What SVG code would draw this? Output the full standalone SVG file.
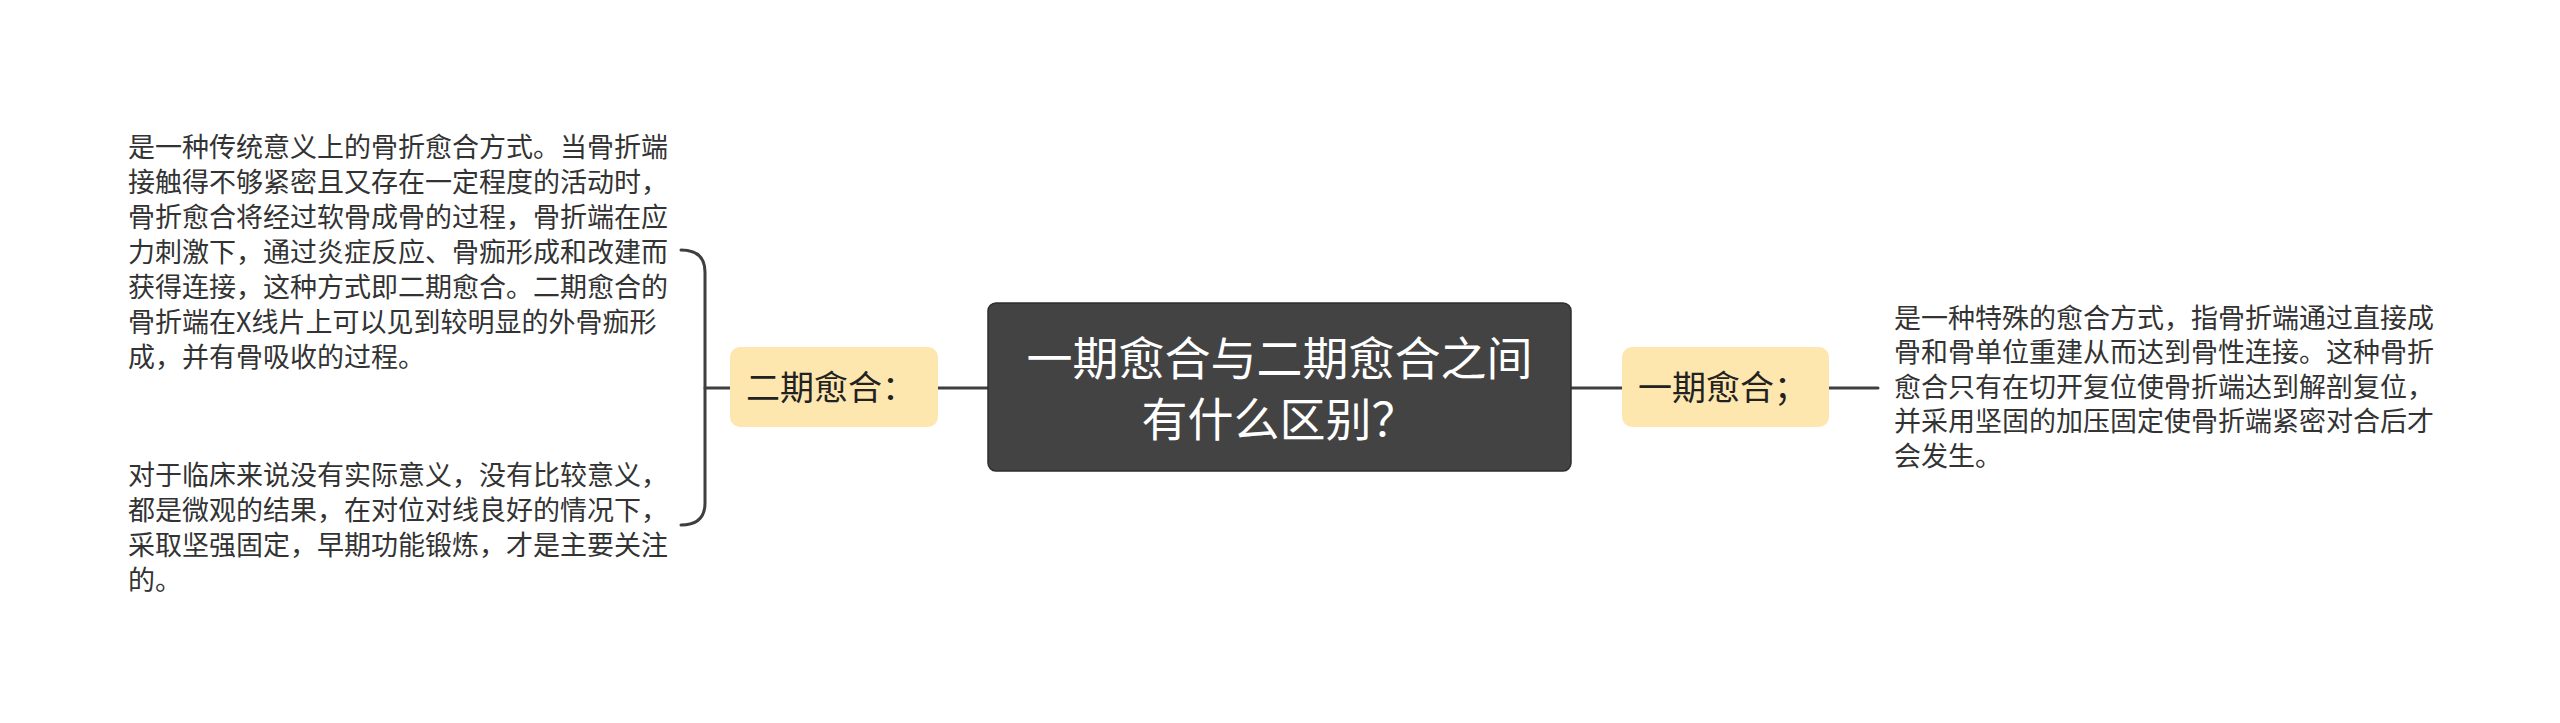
<svg xmlns="http://www.w3.org/2000/svg" width="2560" height="723" viewBox="0 0 2560 723">
<style>
  .conn { fill: none; stroke: #3f3f3f; stroke-width: 3; stroke-linecap: round; }
  .root-box { fill: #434343; stroke: #2e2e2e; stroke-width: 1.5; }
  .root-text { font-family: "Noto Sans CJK SC", "Noto Sans", sans-serif; font-size: 46px; fill: #ffffff; text-anchor: middle; }
  .branch-box { fill: #fee6af; }
  .branch-text { font-family: "Noto Sans CJK SC", "Noto Sans", sans-serif; font-size: 34px; fill: #222222; }
  .leaf-text { font-family: "Noto Sans CJK SC", "Noto Sans", sans-serif; font-size: 27px; fill: #333333; }
</style>
<rect x="0" y="0" width="2560" height="723" fill="#ffffff"/>
<g id="connectors">
  <line class="conn" x1="938" y1="388" x2="988" y2="388"/>
  <line class="conn" x1="1571" y1="388" x2="1622" y2="388"/>
  <line class="conn" x1="1829" y1="388" x2="1878" y2="388"/>
  <line class="conn" x1="705" y1="388" x2="730" y2="388"/>
  <path class="conn" d="M 681 250 Q 705 250 705 272 L 705 503 Q 705 525 681 525"/>
</g>
<g id="root">
  <rect class="root-box" x="988" y="303" width="583" height="168" rx="8" ry="8"/>
  <text class="root-text" x="1279.5" y="375">一期愈合与二期愈合之间</text>
  <text class="root-text" x="1279.5" y="436">有什么区别？</text>
</g>
<g id="branch-second">
  <rect class="branch-box" x="730" y="347" width="208" height="80" rx="10" ry="10"/>
  <text class="branch-text" x="746" y="400">二期愈合：</text>
</g>
<g id="branch-first">
  <rect class="branch-box" x="1622" y="347" width="207" height="80" rx="10" ry="10"/>
  <text class="branch-text" x="1638" y="400">一期愈合；</text>
</g>
<g id="leaf-second-1">
  <text class="leaf-text" x="128" y="157">是一种传统意义上的骨折愈合方式。当骨折端</text>
  <text class="leaf-text" x="128" y="192">接触得不够紧密且又存在一定程度的活动时，</text>
  <text class="leaf-text" x="128" y="227">骨折愈合将经过软骨成骨的过程，骨折端在应</text>
  <text class="leaf-text" x="128" y="262">力刺激下，通过炎症反应、骨痂形成和改建而</text>
  <text class="leaf-text" x="128" y="297">获得连接，这种方式即二期愈合。二期愈合的</text>
  <text class="leaf-text" x="128" y="332">骨折端在X线片上可以见到较明显的外骨痂形</text>
  <text class="leaf-text" x="128" y="367">成，并有骨吸收的过程。</text>
</g>
<g id="leaf-second-2">
  <text class="leaf-text" x="128" y="485">对于临床来说没有实际意义，没有比较意义，</text>
  <text class="leaf-text" x="128" y="520">都是微观的结果，在对位对线良好的情况下，</text>
  <text class="leaf-text" x="128" y="555">采取坚强固定，早期功能锻炼，才是主要关注</text>
  <text class="leaf-text" x="128" y="590">的。</text>
</g>
<g id="leaf-first">
  <text class="leaf-text" x="1894" y="328">是一种特殊的愈合方式，指骨折端通过直接成</text>
  <text class="leaf-text" x="1894" y="362">骨和骨单位重建从而达到骨性连接。这种骨折</text>
  <text class="leaf-text" x="1894" y="397">愈合只有在切开复位使骨折端达到解剖复位，</text>
  <text class="leaf-text" x="1894" y="431">并采用坚固的加压固定使骨折端紧密对合后才</text>
  <text class="leaf-text" x="1894" y="466">会发生。</text>
</g>
</svg>
